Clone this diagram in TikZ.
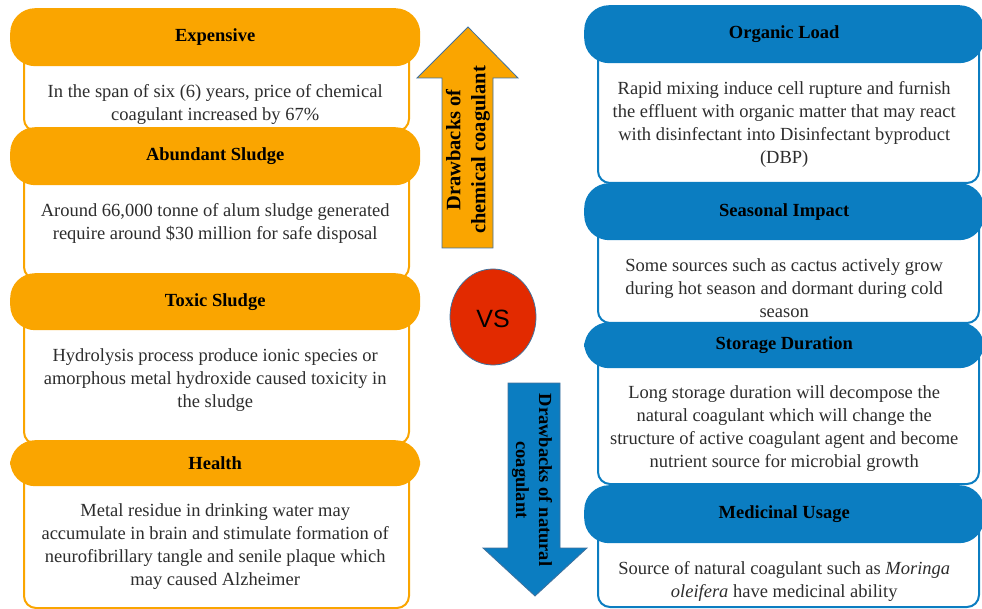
\documentclass[tikz,border=0pt]{standalone}
\usepackage{fontspec}
\setmainfont{Liberation Serif}
\newfontfamily\vsfont{Liberation Sans}
\usetikzlibrary{positioning}

\definecolor{chemorange}{RGB}{250,165,0}
\definecolor{natblue}{RGB}{11,125,193}
\definecolor{vsred}{RGB}{226,42,0}
\definecolor{edgeblue}{RGB}{65,113,156}
\definecolor{bodygray}{RGB}{45,45,45}

\begin{document}
\begin{tikzpicture}[x=1pt,y=-1pt,
    chemhead/.style={fill=chemorange, rounded corners=25pt, anchor=north west,
        minimum width=410pt, font=\bfseries\fontsize{18.5}{21}\selectfont},
    chembody/.style={draw=chemorange, line width=2pt, fill=white, rounded corners=12pt,
        anchor=north west, minimum width=385pt},
    nathead/.style={fill=natblue, rounded corners=25pt, anchor=north west,
        minimum width=400pt, font=\bfseries\fontsize{18.5}{21}\selectfont},
    natbody/.style={draw=natblue, line width=2pt, fill=white, rounded corners=12pt,
        anchor=north west, minimum width=381pt},
    bodytext/.style={align=center, text=bodygray, font=\fontsize{18.5}{23}\selectfont},
    arrowline/.style={draw=edgeblue, line width=0.8pt},
    arrowtext/.style={align=center, font=\bfseries\fontsize{18.5}{23}\selectfont}]
        \useasboundingbox (0,0) rectangle (982,609);

        % chemical coagulant
        \node[chembody, minimum height=93pt] (b1) at (23,37) {};
        \node[chemhead, minimum height=58pt] (h1) at (10,8) {Expensive};
        \node[bodytext, below=15pt of h1] (t1) {In the span of six (6) years, price of chemical\\coagulant increased by 67\%};

        \node[chembody, minimum height=122pt] (b2) at (23,156) {};
        \node[chemhead, minimum height=58pt] (h2) at (10,127) {Abundant Sludge};
        \node[bodytext, below=15pt of h2] (t2) {Around 66,000 tonne of alum sludge generated\\require around \$30 million for safe disposal};

        \node[chembody, minimum height=143pt] (b3) at (23,300) {};
        \node[chemhead, minimum height=57pt] (h3) at (10,273) {Toxic Sludge};
        \node[bodytext, below=15pt of h3] (t3) {Hydrolysis process produce ionic species or\\amorphous metal hydroxide caused toxicity in\\the sludge};

        \node[chembody, minimum height=144pt] (b4) at (23,463) {};
        \node[chemhead, minimum height=46pt] (h4) at (10,440) {Health};
        \node[bodytext, below=14pt of h4] (t4) {Metal residue in drinking water may\\accumulate in brain and stimulate formation of\\neurofibrillary tangle and senile plaque which\\may caused Alzheimer};

        % natural coagulant
        \node[natbody, minimum height=148pt] (b5) at (597,34) {};
        \node[nathead, minimum height=58pt] (h5) at (584,5) {Organic Load};
        \node[bodytext, below=15pt of h5] (t5) {Rapid mixing induce cell rupture and furnish\\the effluent with organic matter that may react\\with disinfectant into Disinfectant byproduct\\(DBP)};

        \node[natbody, minimum height=111pt] (b6) at (597,211) {};
        \node[nathead, minimum height=57pt] (h6) at (584,183) {Seasonal Impact};
        \node[bodytext, below=15pt of h6] (t6) {Some sources such as cactus actively grow\\during hot season and dormant during cold\\season};

        \node[natbody, minimum height=138pt] (b7) at (597,345) {};
        \node[nathead, minimum height=46pt] (h7) at (584,322) {Storage Duration};
        \node[bodytext, below=14pt of h7] (t7) {Long storage duration will decompose the\\natural coagulant which will change the\\structure of active coagulant agent and become\\nutrient source for microbial growth};

        \node[natbody, minimum height=92pt] (b8) at (597,514) {};
        \node[nathead, minimum height=58pt] (h8) at (584,485) {Medicinal Usage};
        \node[bodytext, below=15pt of h8] (t8) {Source of natural coagulant such as \textit{Moringa}\\\textit{oleifera} have medicinal ability};

        % arrows and vs
        \draw[arrowline, fill=chemorange] (442,248) -- (442,78) -- (417,78) -- (468,27)
            -- (518,78) -- (493,78) -- (493,248) -- cycle;
        \node[arrowtext, rotate=90, font=\bfseries\fontsize{20.5}{25}\selectfont] (up) at (468,150) {Drawbacks of\\chemical coagulant};

        \draw[arrowline, fill=natblue] (508,383) -- (508,548) -- (483,548) -- (535,596)
            -- (587,548) -- (560,548) -- (560,383) -- cycle;
        \node[arrowtext, rotate=-90] (down) at (532,480) {Drawbacks of natural\\coagulant};

        \draw[arrowline, fill=vsred] (493,317) ellipse [x radius=43, y radius=48];
        \node[font=\vsfont\fontsize{25}{25}\selectfont] (vs) at (493,319) {VS};
    \end{tikzpicture}
\end{document}
